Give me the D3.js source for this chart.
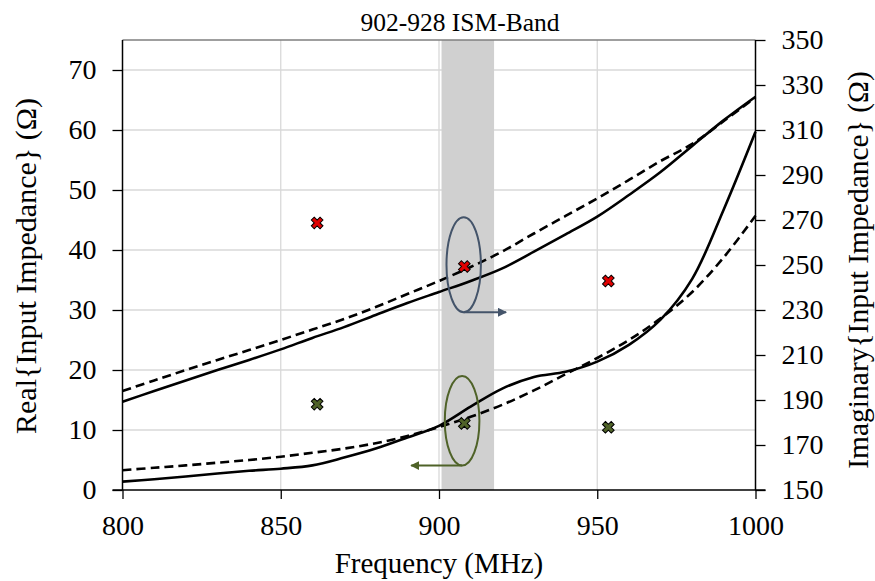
<!DOCTYPE html>
<html>
<head>
<meta charset="utf-8">
<script src="https://cdn.jsdelivr.net/npm/d3@7"></script>
<style>
  body { margin: 0; background: #fff; }
  text { font-family: "Liberation Serif", "Times New Roman", serif; fill: #000; }
</style>
</head>
<body>
<script>
// frequency samples (MHz)
var freq = [800, 810, 820, 830, 840, 850, 860, 870, 880, 890, 900,
            910, 920, 930, 940, 950, 960, 970, 980, 990, 1000];

// Real part (left axis), solid and dashed traces
var realSolid  = [1.4, 1.8, 2.25, 2.75, 3.2, 3.55, 4.1, 5.4, 6.9, 8.75, 10.7,
                  13.9, 16.9, 18.85, 19.7, 21.4, 24.2, 28.4, 35.2, 46.8, 59.7];
var realDashed = [3.3, 3.7, 4.1, 4.55, 5.0, 5.55, 6.2, 6.9, 7.8, 9.0, 10.5,
                  12.2, 14.2, 16.6, 19.3, 22.0, 25.0, 28.6, 33.0, 38.8, 45.7];

// Imaginary part (right axis), solid and dashed traces
var imagSolid  = [189.2, 194.0, 198.7, 203.3, 207.8, 212.5, 217.6, 222.4, 227.8, 233.1, 238.0,
                  242.9, 248.5, 255.9, 263.6, 271.5, 281.1, 291.3, 302.9, 314.4, 324.8];
var imagDashed = [194.0, 198.7, 203.3, 207.8, 212.2, 216.7, 221.3, 226.0, 231.3, 237.1, 242.9,
                  249.1, 256.0, 264.0, 271.8, 279.6, 287.8, 296.2, 303.8, 314.0, 324.5];

// single measured points (x markers)
var markerFreq = [861.5, 908, 953.5];
var realMarkers = [14.3, 11.1, 10.45];     // green, left axis
var imagMarkers = [268.7, 249.3, 242.9];   // red, right axis

// ISM band shading
var band = [900.8, 917.4];
var bandLabel = "902-928 ISM-Band";

// tick values
var xTicks = [800, 850, 900, 950, 1000];
var yLeftTicks = [0, 10, 20, 30, 40, 50, 60, 70];
var yRightTicks = [150, 170, 190, 210, 230, 250, 270, 290, 310, 330, 350];

var W = 875, H = 581;
var margin = {top: 40, right: 119.5, bottom: 91, left: 122.5};

var svg = d3.select("body").append("svg")
    .attr("width", W)
    .attr("height", H);

var x = d3.scaleLinear().domain([800, 1000]).range([margin.left, W - margin.right]);
var yL = d3.scaleLinear().domain([0, 75]).range([H - margin.bottom, margin.top]);
var yR = d3.scaleLinear().domain([150, 350]).range([H - margin.bottom, margin.top]);

var plotTop = margin.top, plotBottom = H - margin.bottom;
var plotLeft = margin.left, plotRight = W - margin.right;

// gridlines
var grid = svg.append("g").attr("stroke", "#d9d9d9").attr("stroke-width", 1.3);
grid.selectAll(".hg")
    .data(yLeftTicks.slice(1))
  .enter().append("line")
    .attr("x1", plotLeft).attr("x2", plotRight)
    .attr("y1", function(d) { return yL(d); })
    .attr("y2", function(d) { return yL(d); });
grid.selectAll(".vg")
    .data(xTicks.slice(1, -1))
  .enter().append("line")
    .attr("y1", plotTop).attr("y2", plotBottom)
    .attr("x1", function(d) { return x(d); })
    .attr("x2", function(d) { return x(d); });

// band
svg.append("rect")
    .attr("x", x(band[0]))
    .attr("y", plotTop)
    .attr("width", x(band[1]) - x(band[0]))
    .attr("height", plotBottom - plotTop)
    .attr("fill", "#d0d0d0");

// top frame line
svg.append("line")
    .attr("x1", plotLeft).attr("x2", plotRight)
    .attr("y1", plotTop).attr("y2", plotTop)
    .attr("stroke", "#7f7f7f").attr("stroke-width", 1.3);

// axes
var tickFont = "28px";
var titleFont = "29px";
var xAxis = svg.append("g")
    .attr("transform", "translate(0," + plotBottom + ")")
    .call(d3.axisBottom(x).tickValues(xTicks).tickSize(9).tickPadding(16).tickFormat(d3.format("d")));
var leftAxis = svg.append("g")
    .attr("transform", "translate(" + plotLeft + ",0)")
    .call(d3.axisLeft(yL).tickValues(yLeftTicks).tickSize(10).tickPadding(16).tickFormat(d3.format("d")));
var rightAxis = svg.append("g")
    .attr("transform", "translate(" + plotRight + ",0)")
    .call(d3.axisRight(yR).tickValues(yRightTicks).tickSize(10).tickPadding(16).tickFormat(d3.format("d")));

[xAxis, leftAxis, rightAxis].forEach(function(a) {
  a.select(".domain").attr("stroke", "#000").attr("stroke-width", 1.5);
  a.selectAll(".tick line").attr("stroke", "#000").attr("stroke-width", 1.3);
  a.selectAll("text")
    .style("font-family", "'Liberation Serif', 'Times New Roman', serif")
    .style("font-size", tickFont)
    .attr("fill", "#000");
});
leftAxis.select(".domain").attr("d", "M0," + plotBottom + "V" + plotTop);
rightAxis.select(".domain").attr("d", "M0," + plotBottom + "V" + plotTop);
xAxis.select(".domain").attr("d", "M" + (plotLeft - 10) + ",0H" + (plotRight + 10));

// curves
var lineL = function(vals) {
  return d3.line()
    .x(function(d, i) { return x(freq[i]); })
    .y(function(d) { return yL(d); })
    .curve(d3.curveCatmullRom)(vals);
};
var lineR = function(vals) {
  return d3.line()
    .x(function(d, i) { return x(freq[i]); })
    .y(function(d) { return yR(d); })
    .curve(d3.curveCatmullRom)(vals);
};
var curves = [
  {d: lineL(realSolid), dash: null},
  {d: lineL(realDashed), dash: "9,5"},
  {d: lineR(imagSolid), dash: null},
  {d: lineR(imagDashed), dash: "9,5"}
];
svg.selectAll(".curve")
    .data(curves)
  .enter().append("path")
    .attr("class", "curve")
    .attr("d", function(d) { return d.d; })
    .attr("fill", "none")
    .attr("stroke", "#000")
    .attr("stroke-width", 2.6)
    .attr("stroke-dasharray", function(d) { return d.dash; });

// annotation ellipses with axis arrows
var defs = svg.append("defs");
function arrowHead(id, color) {
  defs.append("marker")
      .attr("id", id)
      .attr("viewBox", "0 0 10 10")
      .attr("refX", 9).attr("refY", 5)
      .attr("markerWidth", 4.5).attr("markerHeight", 4.5)
      .attr("markerUnits", "strokeWidth")
      .attr("orient", "auto")
    .append("path")
      .attr("d", "M0,0L10,5L0,10Z")
      .attr("fill", color);
}
arrowHead("arrBlue", "#44546a");
arrowHead("arrGreen", "#4f6228");

var notes = [
  {f: 907.8, v: yL.invert(264.8), rx: 17.2, ry: 47.5, to: 921.2, color: "#44546a", arrow: "arrBlue"},
  {f: 907.3, v: yL.invert(420.8), rx: 17.3, ry: 44.8, to: 891.2, color: "#4f6228", arrow: "arrGreen"}
];
notes.forEach(function(n) {
  var cx = x(n.f), cy = yL(n.v);
  svg.append("ellipse")
      .attr("cx", cx).attr("cy", cy)
      .attr("rx", n.rx).attr("ry", n.ry)
      .attr("fill", "none")
      .attr("stroke", n.color)
      .attr("stroke-width", 2);
  svg.append("line")
      .attr("x1", cx).attr("y1", cy + n.ry)
      .attr("x2", x(n.to)).attr("y2", cy + n.ry)
      .attr("stroke", n.color)
      .attr("stroke-width", 2)
      .attr("marker-end", "url(#" + n.arrow + ")");
});

// x markers
var xSym = d3.symbol().type(d3.symbolCross).size(85);
svg.selectAll(".mr")
    .data(imagMarkers)
  .enter().append("path")
    .attr("d", xSym)
    .attr("transform", function(d, i) {
      return "translate(" + x(markerFreq[i]) + "," + yR(d) + ") rotate(45)"; })
    .attr("fill", "#e00000")
    .attr("stroke", "#000")
    .attr("stroke-width", 1);
svg.selectAll(".mg")
    .data(realMarkers)
  .enter().append("path")
    .attr("d", xSym)
    .attr("transform", function(d, i) {
      return "translate(" + x(markerFreq[i]) + "," + yL(d) + ") rotate(45)"; })
    .attr("fill", "#4f6228")
    .attr("stroke", "#000")
    .attr("stroke-width", 1);

// titles
svg.append("text")
    .attr("x", 460).attr("y", 31)
    .attr("text-anchor", "middle")
    .style("font-size", "25.5px")
    .text(bandLabel);

svg.append("text")
    .attr("x", (plotLeft + plotRight) / 2).attr("y", 573)
    .attr("text-anchor", "middle")
    .style("font-size", titleFont)
    .text("Frequency (MHz)");

svg.append("text")
    .attr("transform", "translate(36,266) rotate(-90)")
    .attr("text-anchor", "middle")
    .style("font-size", "30px")
    .text("Real{Input Impedance} (Ω)");

svg.append("text")
    .attr("transform", "translate(868,270) rotate(-90)")
    .attr("text-anchor", "middle")
    .style("font-size", "29.5px")
    .text("Imaginary{Input Impedance} (Ω)");
</script>
</body>
</html>
